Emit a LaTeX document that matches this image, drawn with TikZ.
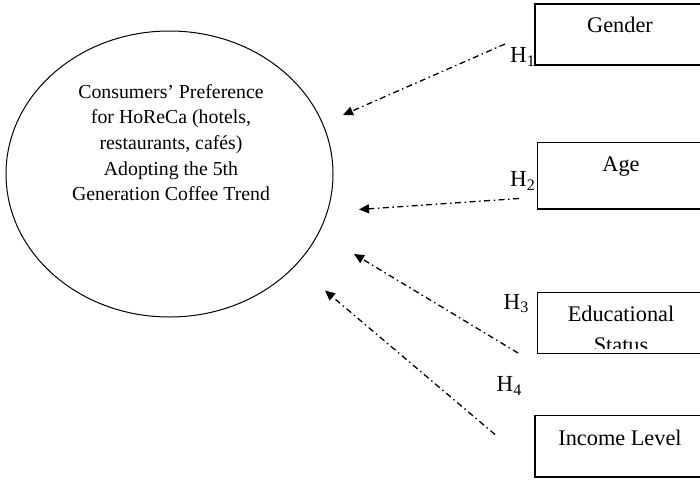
\documentclass[tikz,border=0pt]{standalone}
\usepackage{fontspec}
\setmainfont{Liberation Serif}
\usetikzlibrary{arrows.meta,shapes.geometric}
\begin{document}
\begin{tikzpicture}[x=1pt,y=-1pt,
  framebox/.style={draw, line width=1.2pt, inner sep=0pt},
  boxtext/.style={font=\fontsize{22.3}{27}\selectfont, anchor=base, inner sep=0pt},
  htext/.style={font=\fontsize{23}{26}\selectfont, anchor=base west, inner sep=0pt},
  hyparrow/.style={line width=1.3pt, dash pattern=on 6pt off 3.5pt on 1.5pt off 3.5pt,
     -{Triangle[length=10pt,width=9pt]}}
]
\clip (0,0) rectangle (700,479);
\fill[white] (0,0) rectangle (700,479);

% main construct
\node[draw, ellipse, line width=1pt, minimum width=327pt, minimum height=286pt, inner sep=0pt] (pref) at (169.5,174) {};
\node[font=\fontsize{19.8}{25.6}\selectfont, align=center, anchor=base, inner sep=0pt] (preftxt) at (171,200.7)
  {Consumers’ Preference\\for HoReCa (hotels,\\restaurants, cafés)\\Adopting the 5th\\Generation Coffee Trend};

% boxes
\draw[framebox] (535,4) rectangle (760,65);
\node[minimum width=225pt, minimum height=61pt, anchor=north west, inner sep=0pt] (gender) at (535,4) {};
\node[boxtext] (gendertxt) at (620,32.7) {Gender};

\draw[framebox] (537.5,142.7) rectangle (760,209);
\node[minimum width=222pt, minimum height=66pt, anchor=north west, inner sep=0pt] (age) at (537.5,142.7) {};
\node[boxtext] (agetxt) at (621,171.7) {Age};

\begin{scope}
\clip (537.5,292.7) rectangle (760,348.3);
\node[boxtext, align=center, font=\fontsize{22.3}{30.3}\selectfont] (edutxt) at (621,352) {Educational\\Status};
\end{scope}
\draw[framebox] (537.5,292.7) rectangle (760,353.7);
\node[minimum width=222pt, minimum height=61pt, anchor=north west, inner sep=0pt] (edu) at (537.5,292.7) {};

\draw[framebox] (535,415.7) rectangle (760,477);
\node[minimum width=225pt, minimum height=61pt, anchor=north west, inner sep=0pt] (income) at (535,415.7) {};
\node[boxtext] (incometxt) at (620,445) {Income Level};

% hypothesis labels
\node[htext] (h1) at (510,62.7) {H\textsubscript{1}};
\node[htext] (h2) at (510,186.7) {H\textsubscript{2}};
\node[htext] (h3) at (503.5,309) {H\textsubscript{3}};
\node[htext] (h4) at (496.5,391.7) {H\textsubscript{4}};

% arrow ends
\coordinate (t1) at (505,44);
\coordinate (p1) at (343,115);
\coordinate (t2) at (519,198.5);
\coordinate (p2) at (359,209.5);
\coordinate (t3) at (518,353);
\coordinate (p3) at (354,254);
\coordinate (t4) at (495,434.5);
\coordinate (p4) at (325,290.5);

\draw[hyparrow] (t1) -- (p1);
\draw[hyparrow] (t2) -- (p2);
\draw[hyparrow] (t3) -- (p3);
\draw[hyparrow] (t4) -- (p4);
\end{tikzpicture}
\end{document}
